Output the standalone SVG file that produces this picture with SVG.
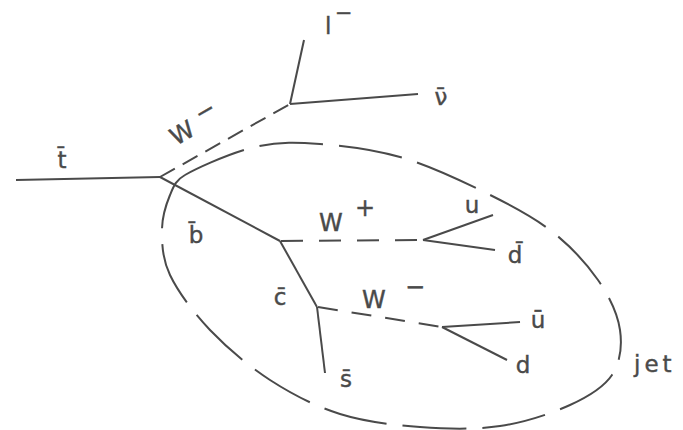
<svg xmlns="http://www.w3.org/2000/svg" width="683" height="430" viewBox="0 0 683 430">
<style>
.ln{stroke:#4a4a4a;stroke-width:2;fill:none;stroke-linecap:butt}
.w1{stroke-dasharray:17 9}
.w2{stroke-dasharray:22 16}
.w3{stroke-dasharray:20 14}
.jet{stroke:#4a4a4a;stroke-width:2;fill:none;stroke-dasharray:64 16}
text{font-family:"DejaVu Sans","Liberation Sans",sans-serif;font-size:23px;fill:#4a4a4a;stroke:#4a4a4a;stroke-width:0.4}
.big{font-size:24px}
</style>
<rect width="683" height="430" fill="#fff"/>
<g id="jet">
<path class="jet" d="M185,175 C199.2,167 232.5,152.2 255,147 C277.5,141.8 295.8,142.3 320,144 C344.2,145.7 373.3,149.3 400,157 C426.7,164.7 455,177.8 480,190 C505,202.2 530.3,215 550,230 C569.7,245 586.3,263.3 598,280 C609.7,296.7 617.7,314.2 620,330 C622.3,345.8 620.3,362.5 612,375 C603.7,387.5 588.7,396.5 570,405 C551.3,413.5 525,422.3 500,426 C475,429.7 446.7,429 420,427 C393.3,425 365,421.8 340,414 C315,406.2 291.7,394 270,380 C248.3,366 226.7,347.5 210,330 C193.3,312.5 178,291.7 170,275 C162,258.3 162,243.3 162,230 C162,216.7 166.2,204.2 170,195 C173.8,185.8 176,180 185,175"/>
<text x="634" y="372" letter-spacing="4">jet</text>
</g>
<g id="connectors">
<line class="ln" x1="16" y1="180" x2="160" y2="177"/>
<line class="ln w1" x1="160" y1="177" x2="290" y2="104"/>
<line class="ln" x1="290" y1="104" x2="304" y2="40"/>
<line class="ln" x1="290" y1="104" x2="418" y2="94"/>
<line class="ln" x1="160" y1="177" x2="280" y2="241"/>
<line class="ln w2" x1="281" y1="241" x2="423" y2="240"/>
<line class="ln" x1="423" y1="240" x2="493" y2="215"/>
<line class="ln" x1="423" y1="240" x2="495" y2="250"/>
<line class="ln" x1="280" y1="241" x2="317" y2="307"/>
<line class="ln" x1="317" y1="307" x2="325" y2="373"/>
<line class="ln w3" x1="318" y1="307" x2="442" y2="327"/>
<line class="ln" x1="442" y1="327" x2="520" y2="322"/>
<line class="ln" x1="442" y1="327" x2="507" y2="360"/>
</g>
<g id="tbar"><text x="62" y="168" text-anchor="middle">t̄</text></g>
<g id="Wminus1"><text class="big" transform="translate(176,146) rotate(-30)">W<tspan dx="9" dy="-8">−</tspan></text></g>
<g id="lminus"><text x="325" y="34">l<tspan x="335" y="20" font-size="21">−</tspan></text></g>
<g id="nubar"><text x="441" y="105" text-anchor="middle">ν̄</text></g>
<g id="bbar"><text x="196" y="243" text-anchor="middle">b̄</text></g>
<g id="Wplus"><text class="big" x="319" y="231">W<tspan x="355" y="216">+</tspan></text></g>
<g id="u1"><text x="472" y="213" text-anchor="middle">u</text></g>
<g id="dbar"><text x="515" y="263" text-anchor="middle">d̄</text></g>
<g id="cbar"><text x="280" y="305" text-anchor="middle">c̄</text></g>
<g id="Wminus2"><text class="big" x="362" y="308">W<tspan x="405" y="295">−</tspan></text></g>
<g id="ubar"><text x="538" y="328" text-anchor="middle">ū</text></g>
<g id="d2"><text x="523" y="373" text-anchor="middle">d</text></g>
<g id="sbar"><text x="346" y="387" text-anchor="middle">s̄</text></g>
</svg>
